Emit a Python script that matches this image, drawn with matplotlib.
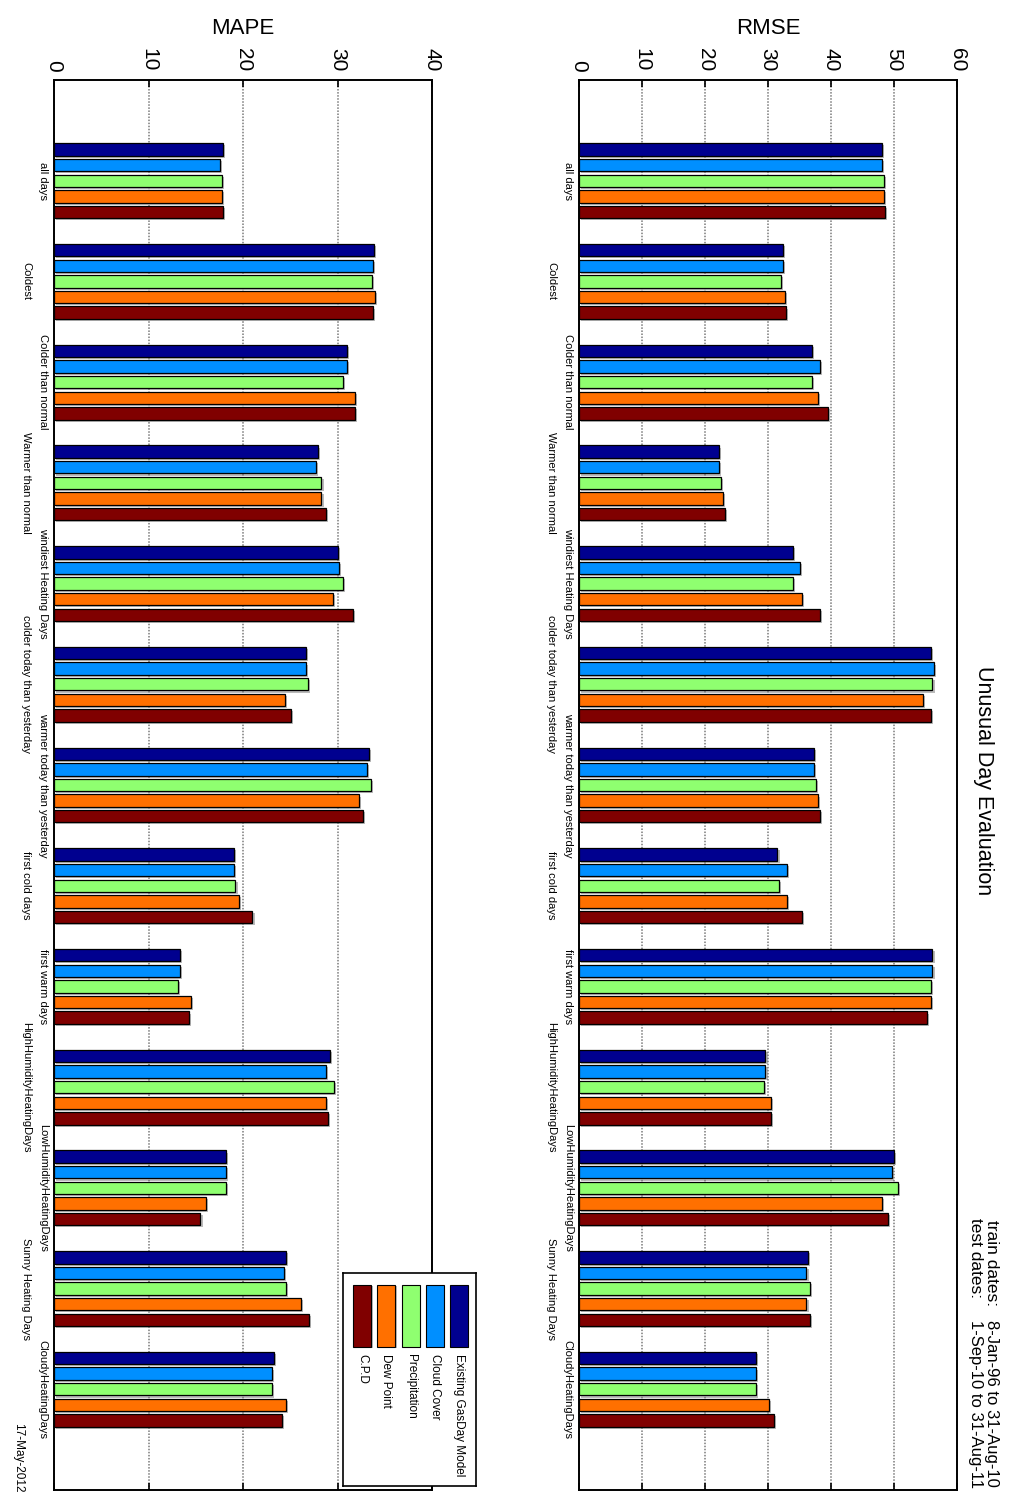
import matplotlib
matplotlib.use('Agg')
import matplotlib.pyplot as plt
import matplotlib.patheffects as pe
from matplotlib.patches import Rectangle
import numpy as np

plt.rcParams['font.family'] = ['Liberation Sans', 'DejaVu Sans']

categories = ["all days", "Coldest", "Colder than normal", "Warmer than normal",
              "windiest Heating Days", "colder today than yesterday",
              "warmer today than yesterday", "first cold days", "first warm days",
              "HighHumidityHeatingDays", "LowHumidityHeatingDays",
              "Sunny Heating Days", "CloudyHeatingDays"]
series_names = ["Existing GasDay Model", "Cloud Cover", "Precipitation", "Dew Point", "C.P.D"]
colors = ["#00008F", "#008FFF", "#8FFF70", "#FF7000", "#800000"]

rmse_existing = [48.1, 32.4, 37.0, 22.2, 33.9, 55.8, 37.3, 31.5, 56.1, 29.6, 50.0, 36.4, 28.1]
rmse_cloud    = [48.1, 32.4, 38.3, 22.2, 35.1, 56.4, 37.3, 33.0, 56.1, 29.6, 49.7, 36.1, 28.1]
rmse_precip   = [48.4, 32.1, 37.0, 22.6, 34.0, 56.1, 37.6, 31.7, 55.8, 29.3, 50.6, 36.7, 28.1]
rmse_dew      = [48.4, 32.7, 37.9, 22.8, 35.4, 54.6, 37.9, 33.0, 55.8, 30.5, 48.1, 36.1, 30.2]
rmse_cpd      = [48.5, 32.8, 39.5, 23.1, 38.3, 55.8, 38.3, 35.4, 55.3, 30.5, 49.1, 36.7, 30.9]

mape_existing = [17.9, 33.9, 31.0, 27.9, 30.0, 26.7, 33.3, 19.0, 13.3, 29.2, 18.2, 24.5, 23.3]
mape_cloud    = [17.6, 33.8, 31.0, 27.7, 30.2, 26.7, 33.1, 19.0, 13.3, 28.8, 18.2, 24.3, 23.1]
mape_precip   = [17.8, 33.6, 30.6, 28.3, 30.6, 26.9, 33.5, 19.2, 13.1, 29.6, 18.2, 24.5, 23.1]
mape_dew      = [17.8, 34.0, 31.8, 28.3, 29.5, 24.4, 32.3, 19.6, 14.5, 28.8, 16.1, 26.1, 24.5]
mape_cpd      = [17.9, 33.8, 31.8, 28.8, 31.6, 25.1, 32.7, 21.0, 14.3, 29.0, 15.5, 27.0, 24.1]

rmse_ticks = [0, 10, 20, 30, 40, 50, 60]
mape_ticks = [0, 10, 20, 30, 40]

W, H = 1013, 1511
fig = plt.figure(figsize=(W / 100, H / 100), dpi=100)
fig.patch.set_facecolor('white')


def fx(px):
    return px / W


def fy(py):
    return 1 - py / H


def draw(ax, series, ticks, label, label_x):
    y = np.arange(1, len(categories) + 1)
    step = 0.155
    for i, (vals, c) in enumerate(zip(series, colors)):
        ax.barh(y + (i - 2) * step, vals, height=0.123, color=c,
                edgecolor='black', linewidth=0.9, zorder=3,
                path_effects=[pe.SimplePatchShadow(offset=(1.5, -1.5),
                                                   shadow_rgbFace='#777777', alpha=0.5),
                              pe.Normal()])
    ax.set_ylim(len(categories) + 1, 0)
    ax.set_xlim(ticks[0], ticks[-1])
    ax.set_xticks(ticks)
    ax.set_xticklabels([str(t) for t in ticks])
    ax.xaxis.tick_top()
    ax.tick_params(axis='x', which='both', top=True, bottom=True, direction='in',
                   length=5, width=1.2, labelrotation=-90, labelsize=15, pad=6)
    ax.set_yticks([])
    ax.grid(axis='x', color='#7a7a7a', linestyle=(0, (1, 1)), linewidth=1.1, zorder=0)
    ax.set_axisbelow(True)
    for s in ax.spines.values():
        s.set_linewidth(1.4)
    for k, cat in enumerate(categories):
        off = -4.5 if k % 2 == 0 else -16.5
        ax.annotate(cat, xy=(0, y[k]), xycoords=('axes fraction', 'data'),
                    xytext=(off, 0), textcoords='offset points',
                    rotation=-90, ha='right', va='center', fontsize=8)
    fig.text(fx(label_x), fy(28), label, ha='center', va='center', fontsize=16)


ax_r = fig.add_axes([fx(579), fy(1490), fx(957 - 579), (1490 - 80) / H])
draw(ax_r, [rmse_existing, rmse_cloud, rmse_precip, rmse_dew, rmse_cpd],
     rmse_ticks, 'RMSE', 768)

ax_m = fig.add_axes([fx(54), fy(1490), fx(432 - 54), (1490 - 80) / H])
draw(ax_m, [mape_existing, mape_cloud, mape_precip, mape_dew, mape_cpd],
     mape_ticks, 'MAPE', 243)

# Title and annotations
fig.text(fx(983), fy(781), 'Unusual Day Evaluation', rotation=-90,
         ha='center', va='center', fontsize=15.5)
fig.text(fx(991), fy(1220), 'train dates:', rotation=-90, ha='center', va='top', fontsize=12.5)
fig.text(fx(975), fy(1218), 'test dates:', rotation=-90, ha='center', va='top', fontsize=12.5)
fig.text(fx(991), fy(1320), '8-Jan-96 to 31-Aug-10', rotation=-90, ha='center', va='top', fontsize=12)
fig.text(fx(975), fy(1320), '1-Sep-10 to 31-Aug-11', rotation=-90, ha='center', va='top', fontsize=12)
fig.text(fx(18), fy(1423), '17-May-2012', rotation=-90, ha='center', va='top', fontsize=8.5)

# Legend box
lax = fig.add_axes([fx(343), fy(1486), fx(476 - 343), (1486 - 1273) / H], zorder=5)
lax.set_xlim(0, 1)
lax.set_ylim(0, 1)
lax.set_xticks([])
lax.set_yticks([])
lax.set_facecolor('white')
for s in lax.spines.values():
    s.set_linewidth(1.2)
for i, (name, c) in enumerate(zip(series_names, colors)):
    xc = 0.872 - i * 0.182
    lax.add_patch(Rectangle((xc - 0.068, 0.653), 0.136, 0.291, facecolor=c,
                            edgecolor='black', linewidth=0.8,
                            path_effects=[pe.SimplePatchShadow(offset=(1, -1),
                                                               shadow_rgbFace='#777777', alpha=0.5),
                                          pe.Normal()]))
    lax.text(xc, 0.62, name, rotation=-90, ha='center', va='top', fontsize=8.5)

fig.savefig('out.png', dpi=100)
